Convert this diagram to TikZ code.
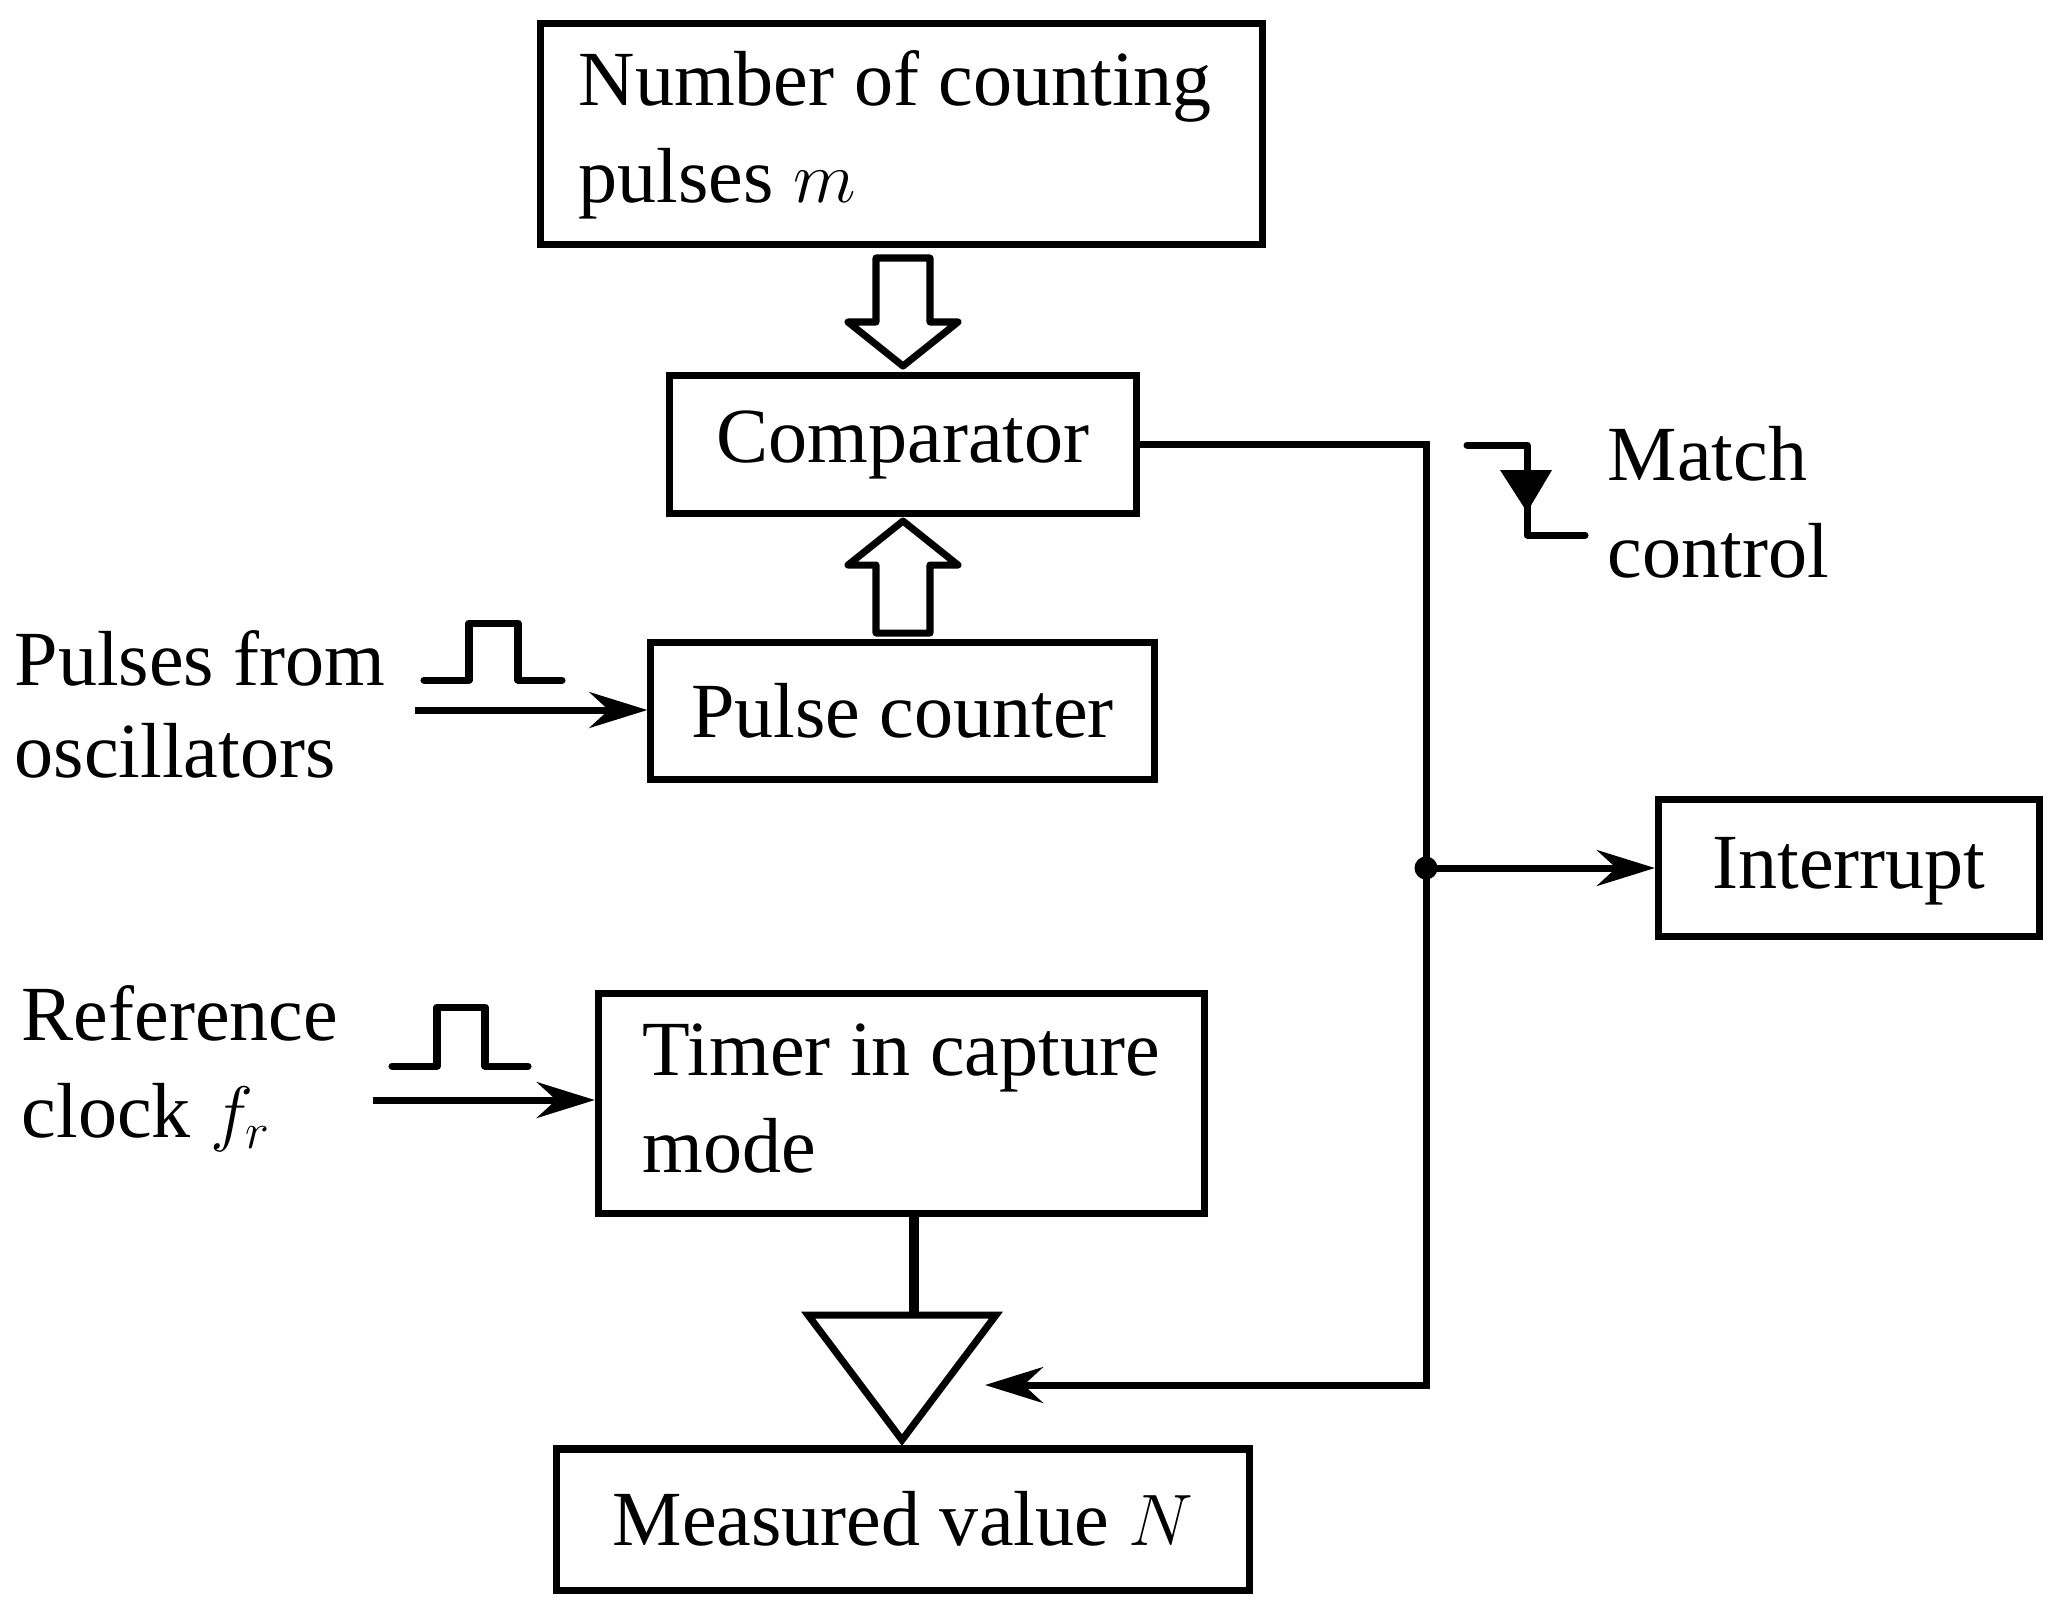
\documentclass[tikz,border=0pt]{standalone}
\usepackage{fontspec}
\setmainfont{Liberation Serif}
\usetikzlibrary{arrows.meta,calc}
\newcommand\twolinesw[3]{\vtop{\baselineskip=27.6pt\relax\hbox to #1{#2\hfil}\hbox to #1{#3\hfil}}}
\newcommand\twolines[3][27.6pt]{\vtop{\baselineskip=#1\relax\hbox{#2}\hbox{#3}}}
\tikzset{
  ln/.style={line width=2pt},
  blk/.style={draw, line width=2pt, rectangle, inner sep=2pt, text depth=0pt},
  lbl/.style={inner sep=0pt, anchor=base west},
  arr/.style={-{Stealth[length=16.5pt,width=10.2pt,inset=5.5pt]}},
  hollow/.style={draw, line width=2pt, line join=round},
  wave/.style={line width=2pt, line cap=round, line join=round},
}
\begin{document}
\begin{tikzpicture}[x=0.01cm, y=-0.01cm, font=\fontsize{22.2pt}{27.6pt}\selectfont]
\fill[white] (0,0) rectangle (2061,1617);
\useasboundingbox (0,0) rectangle (2061,1617);

% boxes
\node[blk, minimum width=7.21cm, minimum height=2.205cm, text height=15.8pt, text depth=32.4pt] (numbox) at (901.5,134.25)
  {\twolinesw{6.45cm}{Number of counting}{pulses $m$}};
\node[blk, minimum width=4.665cm, minimum height=1.37cm, text height=9.96pt] (comp) at (903,444.5) {Comparator};
\node[blk, minimum width=5.03cm, minimum height=1.365cm, text height=14.8pt] (pc) at (902.5,711) {Pulse counter};
\node[blk, minimum width=3.81cm, minimum height=1.37cm, text height=11.4pt] (intr) at (1849,868) {Interrupt};
\node[blk, minimum width=6.055cm, minimum height=2.195cm, text height=16.4pt, text depth=32.4pt] (timer) at (901.25,1103.25)
  {\twolinesw{5.165cm}{Timer in capture}{mode}};
\node[blk, minimum width=6.93cm, minimum height=1.41cm, text height=14.5pt] (meas) at (903,1519.5) {Measured value $N$};

% free labels
\node[lbl] (pulsetxt) at (14,685) {\twolines[26.2pt]{Pulses from}{oscillators}};
\node[lbl] (reftxt) at (21,1040) {\twolines{Reference}{clock $f_r$}};
\node[lbl] (matchtxt) at (1607,480) {\twolines{Match}{control}};

% hollow arrows
\draw[hollow] (876,258) -- (930,258) -- (930,322) -- (958,322) -- (903,366) -- (848,322) -- (876,322) -- cycle;
\draw[hollow] (876,633) -- (930,633) -- (930,565) -- (958,565) -- (903,521) -- (848,565) -- (876,565) -- cycle;

% pulse waveforms
\draw[wave] (424,680) -- (469,680) -- (469,623) -- (518,623) -- (518,680) -- (562,680);
\draw[wave] (392,1066) -- (437,1066) -- (437,1007) -- (485,1007) -- (485,1066) -- (528,1066);

% inputs
\coordinate (pin) at (415,710);
\draw[ln, arr] (pin) -- (pin -| pc.west);
\coordinate (rin) at (373,1100);
\draw[ln, arr] (rin) -- (rin -| timer.west);

% comparator output
\coordinate (bend1) at (1426,444.5);
\coordinate (bend2) at (1426,1385);
\coordinate (mtip) at (985,1385);
\coordinate (jn) at (1426,868);
\draw[ln, arr] (comp.east) -- (bend1) -- (bend2) -- (mtip);
\fill (jn) circle[radius=0.115cm];
\draw[ln, arr] (jn) -- (jn -| intr.west);

% latch triangle
\coordinate (tl) at (808,1315);
\coordinate (tr) at (996,1315);
\coordinate (tt) at (902,1440);
\draw[ln] (tl) -- (tr) -- (tt) -- cycle;
\coordinate (stem) at (914,1315);
\draw[line width=2.8pt] (stem |- timer.south) -- (stem);

% match control symbol
\draw[wave] (1467,445) -- (1527,445) -- (1527,535) -- (1585,535);
\fill (1500,470) -- (1552,470) -- (1527,512) -- cycle;
\end{tikzpicture}
\end{document}
